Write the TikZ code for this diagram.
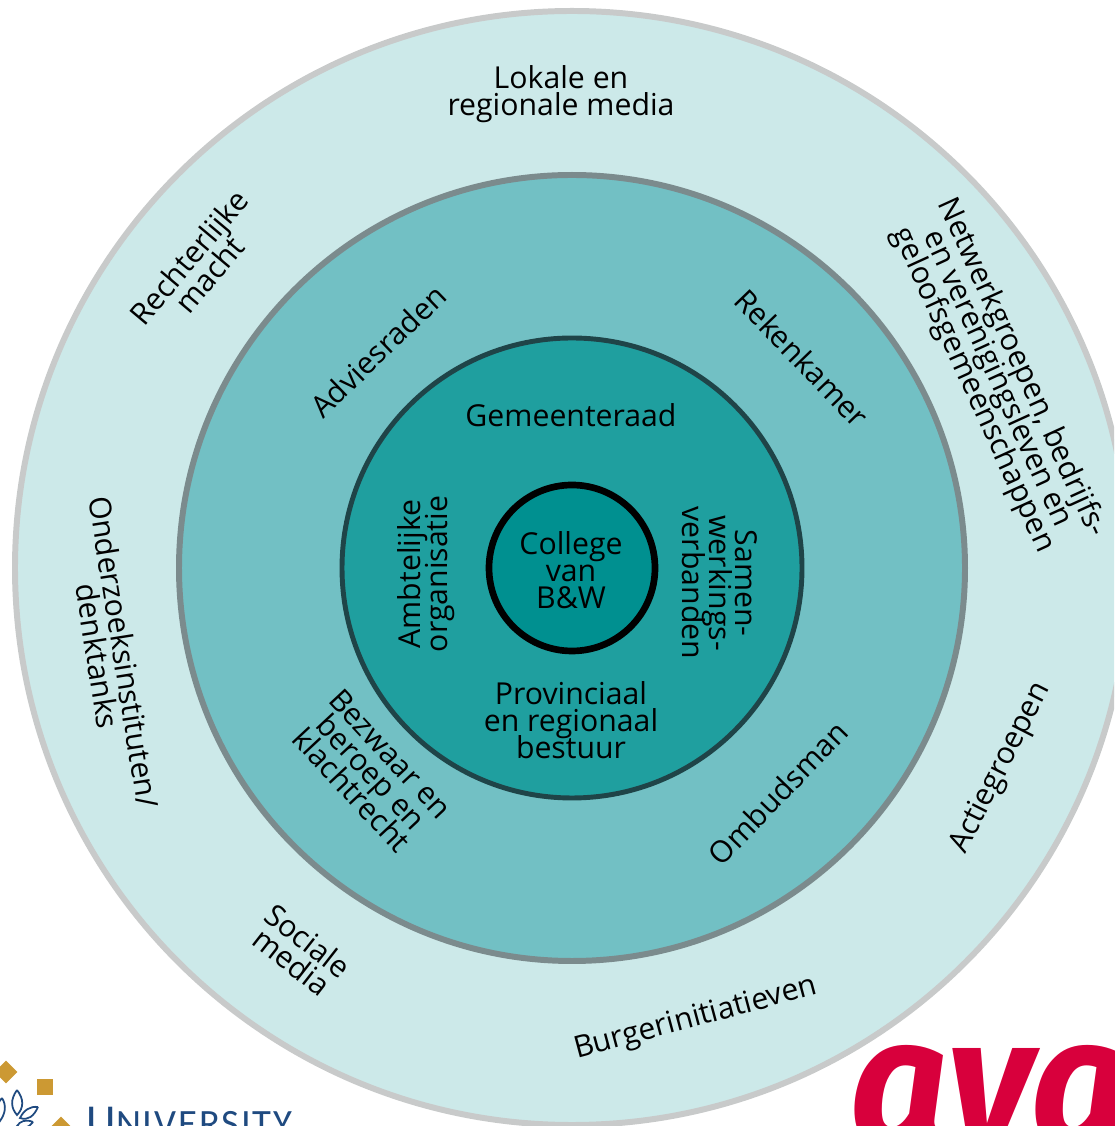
\documentclass[tikz,border=0pt]{standalone}
\usepackage{fontspec}
\setmainfont{Open Sans}
\newfontfamily\logofont{Carlito}
\newfontfamily\avafont{Fira Sans}
\usepackage{xcolor}
\definecolor{ringa}{HTML}{CCE9E9}
\definecolor{ringb}{HTML}{72C0C4}
\definecolor{ringc}{HTML}{1F9F9F}
\definecolor{ringd}{HTML}{009090}
\definecolor{edgea}{HTML}{C8CACA}
\definecolor{edgeb}{HTML}{7B8B8D}
\definecolor{edgec}{HTML}{1F4448}
\definecolor{gold}{HTML}{CC9933}
\definecolor{navy}{HTML}{1F4A80}
\definecolor{avared}{HTML}{D8003C}
\lineskiplimit=-20pt
\normallineskiplimit=-20pt
\tikzset{
	ringlabel/.style={align=center,inner sep=0pt,font=\fontsize{8.6}{7.6}\selectfont},
	goldmark/.style={fill=gold,minimum size=0.16cm,inner sep=0pt},
	leaf/.style={draw=navy,line width=0.5pt,fill=white}
}
\begin{document}
\begin{tikzpicture}
	\useasboundingbox (0,0) rectangle (11.14,11.26);
	\clip (0,0) rectangle (11.14,11.26);
	% rings
	\draw[edgea,line width=1.7pt,fill=ringa] (5.72,5.58) circle (5.57);
	\draw[edgeb,line width=1.7pt,fill=ringb] (5.72,5.58) circle (3.93);
	\draw[edgec,line width=1.4pt,fill=ringc] (5.72,5.58) circle (2.30);
	\draw[black,line width=1.9pt,fill=ringd] (5.72,5.58) circle (0.83);
	% outer ring
	\node[ringlabel] (media) at (5.61,10.32) {Lokale en\\regionale media};
	\node[ringlabel,rotate=50] (macht) at (1.99,8.60) {Rechterlijke\\macht};
	\node[ringlabel,rotate=-65.5] (netwerk) at (9.97,7.47) {Netwerkgroepen, bedrijfs-\\en verenigingsleven en\\geloofsgemeenschappen};
	\node[ringlabel,rotate=-81] (onderzoek) at (1.11,4.72) {Onderzoeksinstituten/\\denktanks};
	\node[ringlabel,rotate=63] (actie) at (10.01,3.58) {Actiegroepen};
	\node[ringlabel,rotate=-38] (sociaal) at (3.00,1.75) {Sociale\\media};
	\node[ringlabel,rotate=15] (burger) at (6.96,1.07) {Burgerinitiatieven};
	% middle ring
	\node[ringlabel,rotate=44] (advies) at (3.78,7.75) {Adviesraden};
	\node[ringlabel,rotate=-46] (reken) at (8.02,7.68) {Rekenkamer};
	\node[ringlabel,rotate=-47] (bezwaar) at (3.71,3.54) {Bezwaar en\\beroep en\\klachtrecht};
	\node[ringlabel,rotate=46] (ombuds) at (7.78,3.33) {Ombudsman};
	% inner ring
	\node[ringlabel] (raad) at (5.71,7.11) {Gemeenteraad};
	\node[ringlabel,rotate=90] (ambt) at (4.26,5.52) {Ambtelijke\\organisatie};
	\node[ringlabel,rotate=-90] (samen) at (7.20,5.43) {Samen-\\werkings-\\verbanden};
	\node[ringlabel] (provincie) at (5.71,4.06) {Provinciaal\\en regionaal\\bestuur};
	\node[ringlabel] (college) at (5.71,5.56) {College\\van\\B\&W};
	% logos
	\node[goldmark,rotate=45] (marka) at (0.06,0.54) {};
	\node[goldmark] (markb) at (0.45,0.39) {};
	\node[goldmark,rotate=45] (markc) at (0.61,-0.02) {};
	\draw[leaf] (0.17,0.36) .. controls (0.10,0.26) and (0.11,0.18) .. (0.17,0.11) .. controls (0.24,0.18) and (0.24,0.27) .. (0.17,0.36);
	\draw[leaf] (0.38,0.19) .. controls (0.30,0.20) and (0.24,0.16) .. (0.20,0.08) .. controls (0.28,0.05) and (0.34,0.10) .. (0.38,0.19);
	\draw[leaf] (0.33,0.04) .. controls (0.26,0.07) and (0.20,0.05) .. (0.17,0.00) .. controls (0.22,-0.04) and (0.29,-0.02) .. (0.33,0.04);
	\draw[leaf] (0.02,0.28) .. controls (-0.04,0.22) and (-0.04,0.12) .. (0.00,0.05) .. controls (0.05,0.12) and (0.07,0.20) .. (0.02,0.28);
	\node[anchor=base west,inner sep=0pt,text=navy] (univ) at (0.86,-0.10) {\logofont\addfontfeature{LetterSpace=5}\fontsize{13}{13}\selectfont U\fontsize{11}{13}\selectfont NIVERSITY};
	\node[anchor=base west,inner sep=0pt,text=avared,xscale=0.93] (ava) at (8.50,-0.19) {\avafont\bfseries\itshape\fontsize{52}{52}\selectfont ava};
\end{tikzpicture}
\end{document}
